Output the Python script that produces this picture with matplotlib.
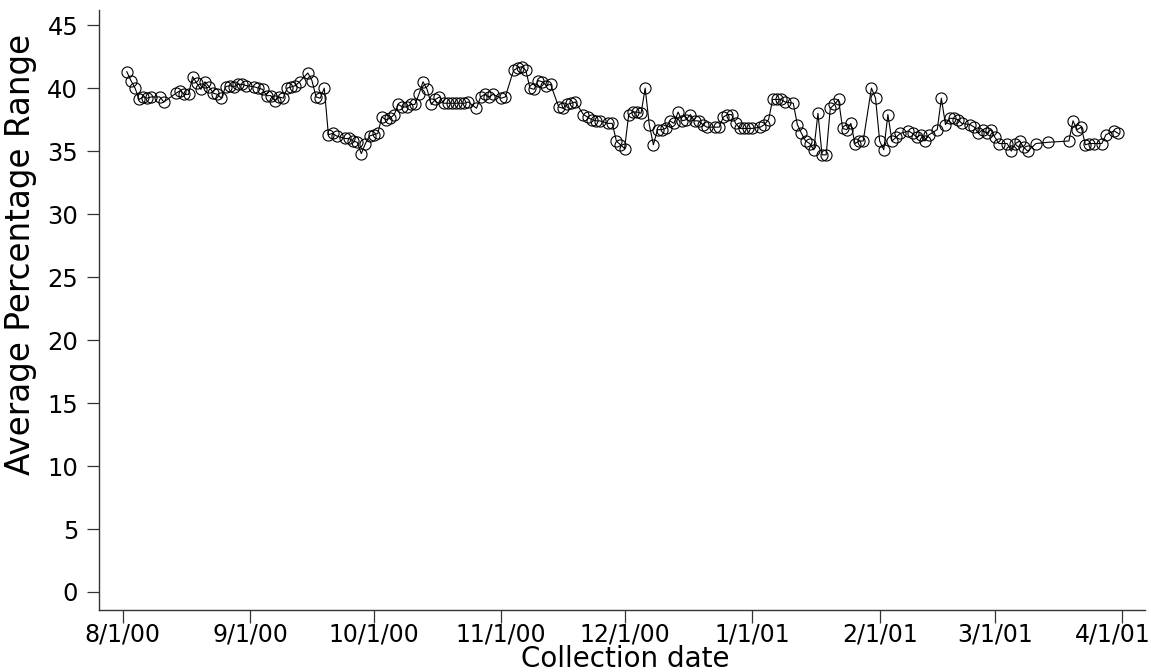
import matplotlib
matplotlib.use("Agg")
import matplotlib.pyplot as plt
import matplotlib.dates as mdates
import matplotlib.transforms as mtransforms
import pandas as pd

# collection dates (m/d/yy) and average percentage range
dates = [
    '8/2/00', '8/3/00', '8/4/00', '8/5/00', '8/6/00', '8/7/00', '8/8/00', '8/10/00', '8/11/00',
    '8/14/00', '8/15/00', '8/16/00', '8/17/00', '8/18/00', '8/19/00', '8/20/00', '8/21/00',
    '8/22/00', '8/23/00', '8/24/00', '8/25/00', '8/26/00', '8/27/00', '8/28/00', '8/29/00',
    '8/30/00', '8/31/00',
    '9/2/00', '9/3/00', '9/4/00', '9/5/00', '9/6/00', '9/7/00', '9/8/00', '9/9/00', '9/10/00',
    '9/11/00', '9/12/00', '9/13/00', '9/15/00', '9/16/00', '9/17/00', '9/18/00', '9/19/00',
    '9/20/00', '9/21/00', '9/22/00', '9/24/00', '9/25/00', '9/26/00', '9/27/00', '9/28/00',
    '9/29/00', '9/30/00',
    '10/1/00', '10/2/00', '10/3/00', '10/4/00', '10/5/00', '10/6/00', '10/7/00', '10/8/00',
    '10/9/00', '10/10/00', '10/11/00', '10/12/00', '10/13/00', '10/14/00', '10/15/00',
    '10/16/00', '10/17/00', '10/18/00', '10/19/00', '10/20/00', '10/21/00', '10/22/00',
    '10/23/00', '10/24/00', '10/26/00', '10/27/00', '10/28/00', '10/29/00', '10/30/00',
    '11/1/00', '11/2/00', '11/4/00', '11/5/00', '11/6/00', '11/7/00', '11/8/00', '11/9/00',
    '11/10/00', '11/11/00', '11/12/00', '11/13/00', '11/15/00', '11/16/00', '11/17/00',
    '11/18/00', '11/19/00', '11/21/00', '11/22/00', '11/23/00', '11/24/00', '11/25/00',
    '11/27/00', '11/28/00', '11/29/00', '11/30/00',
    '12/1/00', '12/2/00', '12/3/00', '12/4/00', '12/5/00', '12/6/00', '12/7/00', '12/8/00',
    '12/9/00', '12/10/00', '12/11/00', '12/12/00', '12/13/00', '12/14/00', '12/15/00',
    '12/16/00', '12/17/00', '12/18/00', '12/19/00', '12/20/00', '12/21/00', '12/23/00',
    '12/24/00', '12/25/00', '12/26/00', '12/27/00', '12/28/00', '12/29/00', '12/30/00',
    '12/31/00',
    '1/1/01', '1/3/01', '1/4/01', '1/5/01', '1/6/01', '1/7/01', '1/8/01', '1/9/01', '1/11/01',
    '1/12/01', '1/13/01', '1/14/01', '1/15/01', '1/16/01', '1/17/01', '1/18/01', '1/19/01',
    '1/20/01', '1/21/01', '1/22/01', '1/23/01', '1/24/01', '1/25/01', '1/26/01', '1/27/01',
    '1/28/01', '1/30/01', '1/31/01',
    '2/1/01', '2/2/01', '2/3/01', '2/4/01', '2/5/01', '2/6/01', '2/8/01', '2/9/01', '2/10/01',
    '2/11/01', '2/12/01', '2/13/01', '2/15/01', '2/16/01', '2/17/01', '2/18/01', '2/19/01',
    '2/20/01', '2/21/01', '2/23/01', '2/24/01', '2/25/01', '2/26/01', '2/27/01', '2/28/01',
    '3/1/01', '3/2/01', '3/4/01', '3/5/01', '3/6/01', '3/7/01', '3/8/01', '3/9/01', '3/11/01',
    '3/14/01', '3/19/01', '3/20/01', '3/21/01', '3/22/01', '3/23/01', '3/24/01', '3/25/01',
    '3/27/01', '3/28/01', '3/30/01', '3/31/01',
]

avg_range = [
    41.3, 40.6, 40.0, 39.1, 39.3, 39.2, 39.3, 39.3, 38.9,
    39.6, 39.8, 39.5, 39.5, 40.9, 40.4, 39.9, 40.5,
    40.1, 39.6, 39.5, 39.2, 40.1, 40.2, 40.1, 40.3,
    40.3, 40.2,
    40.1, 40.0, 39.9, 39.4, 39.4, 39.0, 39.3, 39.2, 40.0,
    40.1, 40.2, 40.5, 41.2, 40.6, 39.3, 39.2, 40.0,
    36.3, 36.4, 36.2, 36.0, 36.0, 35.8, 35.7, 34.8,
    35.6, 36.2,
    36.3, 36.4, 37.7, 37.5, 37.6, 37.9, 38.7, 38.5,
    38.5, 38.7, 38.7, 39.5, 40.5, 39.9, 38.7,
    39.1, 39.3, 38.8, 38.8, 38.8, 38.8, 38.8,
    38.8, 38.9, 38.4, 39.3, 39.5, 39.3, 39.5,
    39.2, 39.3, 41.4, 41.6, 41.7, 41.4, 40.0, 39.9,
    40.6, 40.5, 40.2, 40.3, 38.5, 38.4, 38.7,
    38.8, 38.9, 37.9, 37.7, 37.5, 37.4, 37.4,
    37.2, 37.2, 35.8, 35.5,
    35.2, 37.9, 38.1, 38.1, 38.0, 40.0, 37.1, 35.5,
    36.7, 36.7, 36.8, 37.4, 37.2, 38.1, 37.4,
    37.5, 37.9, 37.4, 37.4, 37.1, 36.9, 36.9,
    36.9, 37.7, 37.9, 37.9, 37.2, 36.8, 36.8,
    36.8,
    36.8, 36.9, 37.1, 37.5, 39.1, 39.1, 39.1, 38.9, 38.8,
    37.1, 36.4, 35.8, 35.6, 35.1, 38.0, 34.7, 34.7,
    38.4, 38.7, 39.1, 36.8, 36.7, 37.2, 35.6, 35.8,
    35.8, 40.0, 39.2,
    35.8, 35.1, 37.9, 35.8, 36.1, 36.4, 36.6, 36.4, 36.1,
    36.3, 35.8, 36.3, 36.7, 39.2, 37.1, 37.6, 37.6,
    37.5, 37.2, 37.1, 36.9, 36.4, 36.7, 36.4, 36.7,
    36.1, 35.6, 35.6, 35.0, 35.6, 35.8, 35.3, 35.0, 35.6,
    35.7, 35.8, 37.4, 36.7, 36.9, 35.5, 35.6, 35.6,
    35.6, 36.3, 36.6, 36.4,
]

tick_labels = ['8/1/00', '9/1/00', '10/1/00', '11/1/00', '12/1/00',
               '1/1/01', '2/1/01', '3/1/01', '4/1/01']
y_ticks = [0, 5, 10, 15, 20, 25, 30, 35, 40, 45]

x = pd.to_datetime(dates, format='%m/%d/%y')
tick_pos = pd.to_datetime(tick_labels, format='%m/%d/%y')

plt.rcParams['font.family'] = ['DejaVu Sans']

fig = plt.figure(figsize=(11.51, 6.72), dpi=100)
ax = fig.add_axes([99 / 1151, 1 - 610 / 672, 1046 / 1151, 600 / 672])

ax.plot(x, avg_range, color='black', lw=0.8, marker='o', ms=8,
        mfc='none', mec='black', mew=0.8)

ax.set_xlim(tick_pos[0] - pd.Timedelta(days=5.76), tick_pos[0] + pd.Timedelta(days=248.5))
ax.set_ylim(-1.43, 46.2)

ax.set_xticks(mdates.date2num(tick_pos))
ax.set_xticklabels(tick_labels)
ax.set_yticks(y_ticks)
ax.set_yticklabels([str(v) for v in y_ticks])

for s in ['top', 'right']:
    ax.spines[s].set_visible(False)
for s in ['left', 'bottom']:
    ax.spines[s].set_color('#333333')
    ax.spines[s].set_linewidth(1.0)

ax.tick_params(axis='both', direction='out', length=9, width=0.9, color='#333333',
               labelsize=17)
ax.tick_params(axis='y', pad=6, labelsize=17.5)
ax.tick_params(axis='x', pad=0)

# last date label sits a little left of its tick so it stays inside the figure
last = ax.get_xticklabels()[-1]
last.set_transform(last.get_transform() +
                   mtransforms.ScaledTranslation(-10 / 100, 0, fig.dpi_scale_trans))

ax.set_xlabel('Collection date', fontsize=20, va='baseline')
ax.xaxis.set_label_coords(0.503, -0.095)
ax.set_ylabel('Average Percentage Range', fontsize=23.5, va='center')
ax.yaxis.set_label_coords(-0.0755, 0.593)

fig.savefig('out.png', dpi=100)
